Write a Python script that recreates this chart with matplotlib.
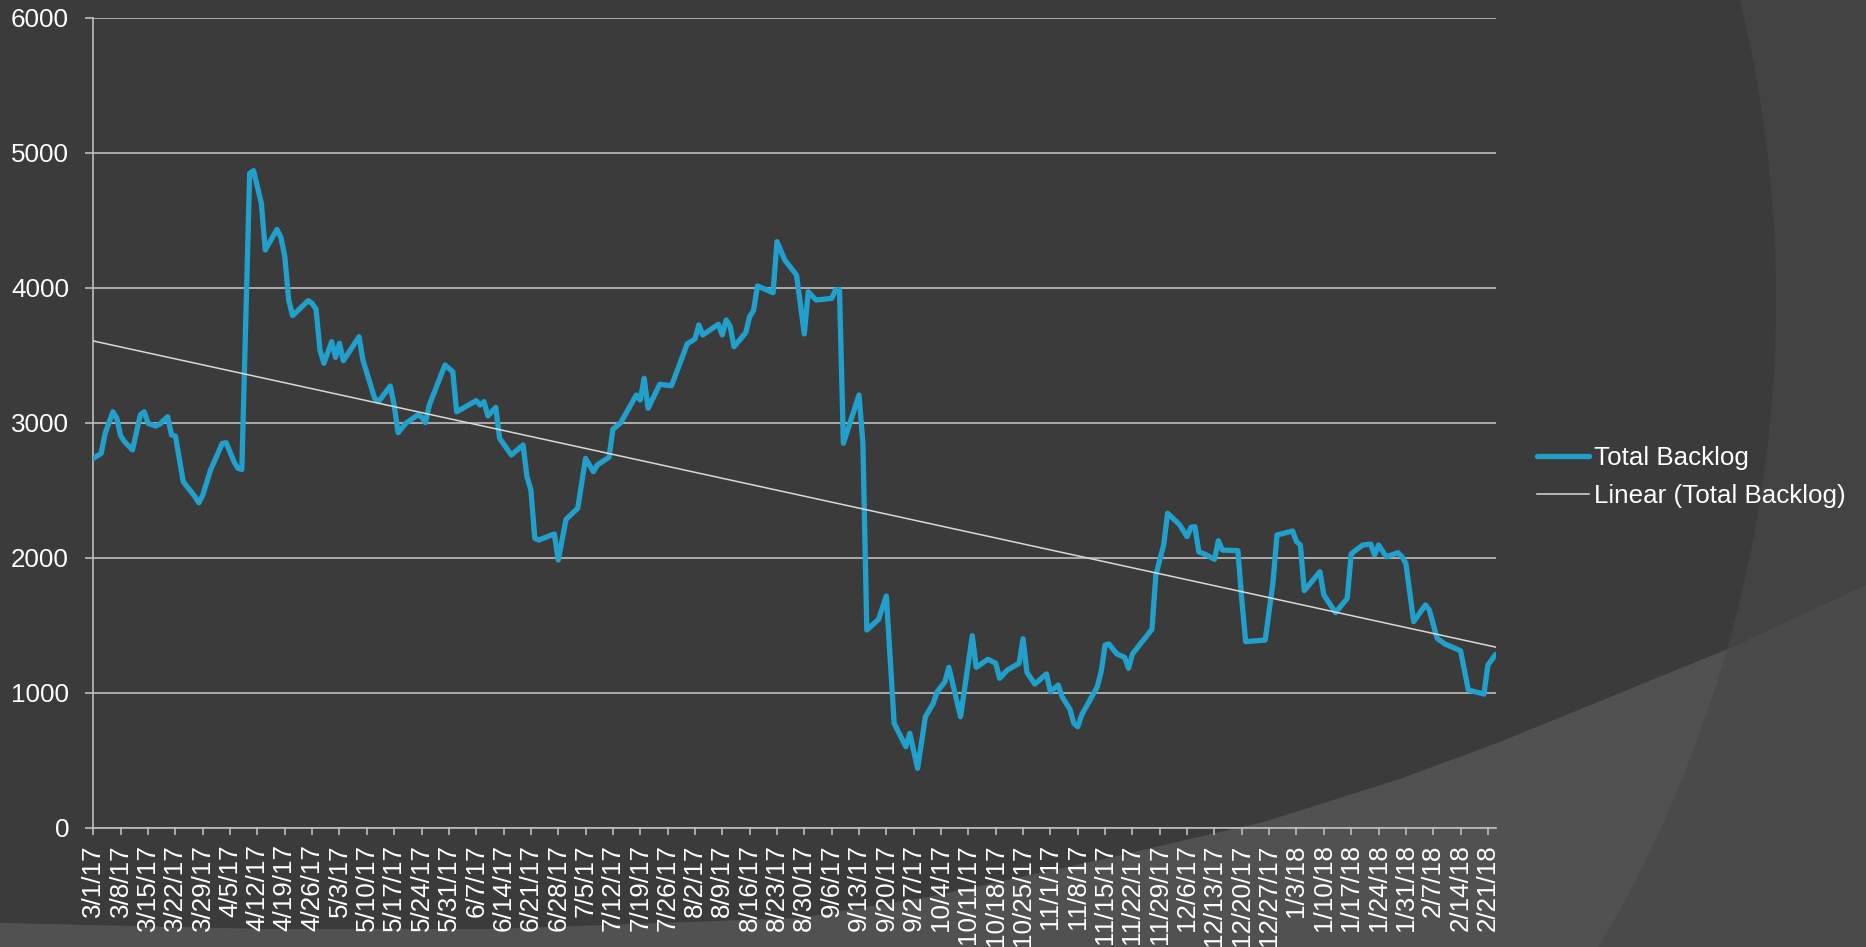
import numpy as np
import pandas as pd
import matplotlib
matplotlib.use('Agg')
import matplotlib.pyplot as plt
import matplotlib.dates as mdates
from matplotlib.patches import Circle, Polygon, Rectangle

# days since 3/1/17 and total backlog
days = [0, 2, 3, 5, 6, 7, 8, 10, 12, 13, 14, 16, 17, 19, 20, 21, 23, 26, 27, 28,
        30, 33, 34, 36, 37, 38, 40, 41, 43, 44, 47, 48, 49, 50, 51, 55, 56, 57, 58, 59,
        61, 62, 63, 64, 68, 69, 72, 73, 76, 77, 78, 80, 83, 84, 85, 86, 90, 92, 93, 98,
        99, 100, 101, 103, 104, 107, 110, 111, 112, 113, 114, 118, 119, 121, 124, 126, 128, 129, 132, 133,
        135, 139, 140, 141, 142, 145, 148, 150, 152, 154, 155, 156, 160, 161, 162, 163, 164, 167, 168, 169,
        170, 174, 175, 177, 178, 180, 182, 183, 185, 189, 190, 191, 192, 196, 197, 198, 201, 203, 205, 208,
        209, 211, 213, 215, 216, 218, 219, 222, 225, 226, 229, 231, 232, 234, 237, 238, 239, 241, 244, 245,
        247, 248, 250, 251, 252, 253, 257, 258, 259, 260, 262, 264, 265, 266, 271, 272, 274, 275, 278, 280,
        281, 282, 283, 285, 287, 288, 289, 293, 294, 295, 300, 302, 303, 307, 308, 309, 310, 314, 315, 318,
        321, 322, 323, 325, 327, 328, 329, 331, 334, 335, 336, 338, 341, 342, 344, 346, 350, 352, 356, 357,
        359]
backlog = [2736, 2773, 2921, 3081, 3032, 2901, 2859, 2798, 3057, 3081, 2995, 2975, 2990, 3044, 2909, 2901, 2563, 2452, 2407, 2464,
           2650, 2847, 2852, 2711, 2662, 2654, 4847, 4867, 4625, 4279, 4432, 4373, 4230, 3909, 3793, 3904, 3884, 3840, 3539, 3440,
           3600, 3484, 3588, 3459, 3637, 3464, 3181, 3156, 3272, 3131, 2926, 2996, 3057, 3044, 3000, 3131, 3427, 3378, 3081, 3163,
           3131, 3156, 3050, 3114, 2884, 2761, 2835, 2600, 2501, 2144, 2131, 2176, 1983, 2284, 2366, 2736, 2637, 2687, 2744, 2951,
           3000, 3205, 3168, 3329, 3107, 3284, 3274, 3427, 3583, 3620, 3724, 3650, 3729, 3650, 3761, 3716, 3563, 3667, 3785, 3830,
           4013, 3963, 4341, 4205, 4168, 4094, 3657, 3970, 3909, 3921, 3983, 3988, 2847, 3205, 2847, 1464, 1543, 1716, 773, 600,
           699, 440, 822, 921, 1007, 1081, 1188, 822, 1422, 1188, 1247, 1218, 1107, 1168, 1218, 1400, 1150, 1064, 1139, 1007,
           1057, 970, 877, 773, 748, 835, 1044, 1156, 1353, 1361, 1287, 1262, 1181, 1287, 1470, 1872, 2094, 2329, 2247, 2156,
           2225, 2230, 2044, 2020, 1988, 2126, 2057, 2052, 1687, 1378, 1390, 1822, 2168, 2198, 2119, 2094, 1756, 1896, 1724, 1593,
           1699, 2027, 2052, 2094, 2101, 2020, 2094, 2007, 2037, 2007, 1958, 1526, 1650, 1613, 1403, 1361, 1311, 1020, 990, 1205,
           1284]

start = pd.Timestamp('2017-03-01')
last_date = pd.Timestamp('2018-02-23')
tick_dates = pd.date_range(start, '2018-02-21', freq='7D')
tick_labels = [f"{d.month}/{d.day}/{d.year % 100}" for d in tick_dates]
y_ticks = [0, 1000, 2000, 3000, 4000, 5000, 6000]

BG = '#3b3b3b'
BG_OUT = '#434343'
LOW_IN = '#515151'
LOW_OUT = '#4a4a4a'
BLUE = '#21a0cc'
GRID = '#bdbdbd'
FS = 18.7

plt.rcParams['font.family'] = ['Liberation Sans', 'DejaVu Sans']

fig = plt.figure(figsize=(18.66, 9.47), dpi=100)
fig.patch.set_facecolor(BG)

# theme decoration (pixel coords)
bg = fig.add_axes([0, 0, 1, 1], zorder=-1)
bg.set_xlim(0, 1866)
bg.set_ylim(947, 0)
bg.axis('off')
bg.add_patch(Rectangle((0, 0), 1866, 947, color=BG_OUT, lw=0))
circ = Circle((508, 300), 1268, color=BG, lw=0)
bg.add_patch(circ)
low_pts = [(0, 923), (260, 929), (500, 929), (800, 918), (934, 896), (1100, 860), (1264, 822),
           (1400, 779), (1500, 742), (1733, 647), (1866, 585), (1866, 947), (0, 947)]
bg.add_patch(Polygon(low_pts, closed=True, color=LOW_OUT, lw=0))
p_in = Polygon(low_pts, closed=True, color=LOW_IN, lw=0)
bg.add_patch(p_in)
p_in.set_clip_path(circ)

ax = fig.add_axes([93.4 / 1866, 1 - 827.7 / 947, (1495.7 - 93.4) / 1866, (827.7 - 17.7) / 947])
ax.patch.set_alpha(0)

x = mdates.date2num(start + pd.to_timedelta(days, unit='D'))
ax.plot(x, backlog, color=BLUE, lw=3.8, solid_joinstyle='round', solid_capstyle='round',
        label='Total Backlog', zorder=3)

# linear trendline over the axis span
x0, x1 = mdates.date2num(start), mdates.date2num(last_date)
k, b = np.polyfit(x, backlog, 1)
ax.plot([x0, x1], [k * x0 + b, k * x1 + b], color='#d9d9d9', lw=1.1,
        label='Linear (Total Backlog)', zorder=4)

ax.set_xlim(x0, x1)
ax.set_ylim(0, 6000)
ax.set_yticks(y_ticks)
ax.set_yticklabels([str(v) for v in y_ticks])
ax.set_xticks(mdates.date2num(tick_dates))
ax.set_xticklabels(tick_labels, rotation=90, va='top', ha='center')
ax.grid(axis='y', color=GRID, lw=1.2)
ax.set_axisbelow(True)
for s in ['top', 'right']:
    ax.spines[s].set_visible(False)
for s in ['left', 'bottom']:
    ax.spines[s].set_color(GRID)
    ax.spines[s].set_linewidth(1.2)
ax.tick_params(axis='y', colors=GRID, labelcolor='white', labelsize=FS, length=5.5, width=1.2, pad=12)
ax.tick_params(axis='x', colors=GRID, labelcolor='white', labelsize=FS, length=5, width=1.2, pad=7)

fig.legend(loc='center left', bbox_to_anchor=(1537 / 1866, 1 - 476.8 / 947), frameon=False,
           fontsize=FS, labelcolor='white', handlelength=2.0, handletextpad=0.2,
           borderpad=0, borderaxespad=0, labelspacing=0.55)

fig.savefig('out.png', dpi=100, facecolor=BG)
